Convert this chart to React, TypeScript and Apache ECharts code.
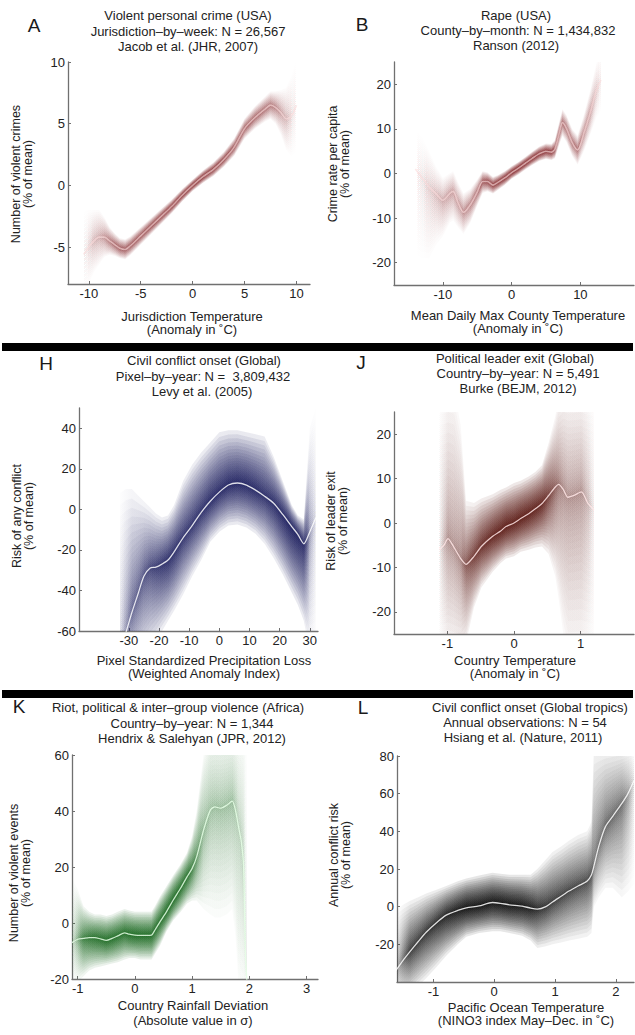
import React, { useEffect, useRef } from 'react';
import * as echarts from 'echarts';

const FONT = '"Liberation Sans", Arial, Helvetica, sans-serif';
const TEXT = '#222222';
const AXIS = '#707070';

// ---------- Panel A : violent personal crime ----------
const A_X = [-10.5, -10, -9.5, -9, -8.5, -8, -7.5, -7, -6.5, -6, -5, -4, -3, -2, -1, 0, 1, 2, 3, 4, 5, 6, 7, 7.5, 8, 8.5, 9, 9.5, 10];
const A_MID = [-5.6, -5.0, -4.5, -4.2, -4.2, -4.5, -4.8, -5.1, -5.2, -4.9, -4.1, -3.3, -2.5, -1.7, -0.8, 0, 0.7, 1.3, 2.1, 3.1, 4.6, 5.5, 6.2, 6.5, 6.3, 5.9, 5.4, 5.6, 6.5];
const A_LO = [-9.1, -8.0, -7.0, -6.4, -5.8, -5.6, -5.7, -5.9, -6.0, -5.65, -4.8, -3.95, -3.1, -2.25, -1.3, -0.45, 0.2, 0.75, 1.5, 2.4, 3.8, 4.6, 5.2, 5.4, 5.0, 4.1, 2.9, 2.4, 2.7];
const A_HI = [-2.1, -2.0, -2.0, -2.0, -2.6, -3.4, -3.9, -4.3, -4.4, -4.15, -3.4, -2.65, -1.9, -1.15, -0.3, 0.45, 1.2, 1.85, 2.7, 3.8, 5.4, 6.4, 7.2, 7.6, 7.6, 7.7, 7.9, 8.8, 10.3];

// ---------- Panel B : rape ----------
const B_X = [-14, -13, -12, -11, -10, -9, -8.5, -7.8, -7, -6, -5, -4.2, -3.5, -2.7, -2, -1, 0, 1, 2, 3, 4, 5, 5.8, 6.3, 7, 7.4, 8, 8.8, 9.6, 10.5, 11.5, 12.3, 13];
const B_MID = [1, -1, -3, -4.5, -6, -4.5, -4, -6.5, -8.7, -7, -4.2, -1.8, -1.8, -2.6, -2.0, -1.0, 0.2, 1.2, 2.3, 3.4, 4.4, 5.0, 4.8, 5.5, 9.5, 11.4, 10, 7, 5.3, 9, 14, 18.5, 21];
const B_LO = [-18, -19, -19, -16, -14, -11, -10.5, -12, -13.5, -11, -7.2, -4.3, -4, -4.5, -3.7, -2.6, -1.2, -0.2, 0.9, 1.9, 2.8, 3.3, 3, 3.4, 6.8, 8.4, 7, 4, 2, 5, 9, 12.5, 14];
const B_HI = [10, 8, 5, 1.5, -1, 0, 0.5, -2, -4.5, -3.5, -1.4, 0.5, 0.2, -0.8, -0.4, 0.5, 1.6, 2.6, 3.7, 4.9, 6, 6.7, 6.6, 7.5, 12, 14.4, 13, 10, 8.5, 13, 19, 24.5, 28];

// ---------- Panel H : civil conflict onset ----------
const H_X = [-33, -31, -29, -27, -25, -23, -21, -19, -17, -15, -12, -9, -6, -3, 0, 3, 6, 9, 12, 15, 18, 21, 24, 26, 28, 30, 32];
const H_MID = [-70, -61, -51, -42, -33, -29, -28.5, -27, -25, -21, -14, -8, -1.5, 4, 8.5, 12, 13, 12, 9.5, 6.5, 3, -2.5, -8.5, -12.3, -17, -11, -4];
const H_LO = [-90, -90, -85, -80, -75, -70, -65, -60, -55, -50, -42, -33, -25, -16, -11, -8, -7.5, -9, -12, -17, -24, -32, -41, -47, -55, -70, -70];
const H_HI = [8, 10, 10, 7, 4, 1, -2, -4, -3, 2, 14, 22, 28, 33, 38, 39, 39, 38, 37, 36, 26, 14, 2, -3, -5, 40, 50];

// ---------- Panel J : political leader exit ----------
const J_X = [-1.12, -1.05, -0.99, -0.9, -0.8, -0.72, -0.6, -0.49, -0.32, -0.2, -0.12, 0, 0.1, 0.22, 0.32, 0.42, 0.52, 0.62, 0.67, 0.74, 0.81, 0.9, 1.01, 1.11, 1.2];
const J_MID = [-6, -5, -3.5, -5.5, -8, -9.3, -7.5, -5.3, -3, -1.8, -0.8, 0, 1, 2.1, 3.2, 4.4, 6.2, 8.1, 8.7, 7.5, 5.8, 6.2, 7, 4.4, 3];
const J_LO = [-30, -30, -30, -30, -30, -27, -19, -14.5, -11, -9, -8, -7.5, -6.5, -6, -5.5, -5.3, -7, -12, -17, -25, -30, -30, -30, -30, -30];
const J_HI = [30, 30, 30, 30, 22, 5, 4.5, 5.5, 6.5, 7.5, 8, 9, 9.5, 10.5, 11.5, 13, 18, 24, 28, 30, 30, 30, 30, 30, 30];

// ---------- Panel K : riot & inter-group violence ----------
const K_X = [-1.1, -1.0, -0.9, -0.8, -0.7, -0.6, -0.5, -0.4, -0.3, -0.18, -0.1, 0, 0.1, 0.2, 0.29, 0.35, 0.44, 0.55, 0.67, 0.8, 0.91, 1.0, 1.08, 1.2, 1.32, 1.4, 1.49, 1.6, 1.7, 1.76, 1.81, 1.86, 1.9, 1.93, 1.97];
const K_MID = [-7, -5.8, -5.5, -5.2, -5.2, -5.7, -6.2, -5.5, -4.6, -3.5, -4, -4.3, -4.4, -4.4, -4.3, -2.5, 0.5, 4, 8.2, 12.5, 16.5, 19.5, 23.7, 33.2, 40.4, 41.5, 41, 42, 43.5, 40, 34.4, 29, 20, -10, -25];
const K_LO = [-22, -21, -19, -17, -16, -15.5, -15, -14.5, -14, -13, -12.5, -12.5, -13, -13, -13, -11, -8, -3, 1, 4, 7, 8, 8, 5, 3, 2, 2, 3, 5, -5, -22, -25, -25, -25, -25];
const K_HI = [16, 12, 6, 4, 3, 3, 2.5, 3, 4, 5, 4.5, 4, 4, 4, 4, 6, 9.5, 13, 17, 21, 25, 31, 40, 60, 70, 70, 70, 70, 70, 70, 70, 70, 70, 70, 70];

// ---------- Panel L : civil conflict onset (tropics) ----------
const L_X = [-1.62, -1.5, -1.39, -1.25, -1.12, -0.95, -0.79, -0.6, -0.46, -0.25, -0.03, 0.1, 0.25, 0.46, 0.6, 0.71, 0.85, 0.96, 1.1, 1.23, 1.38, 1.53, 1.6, 1.64, 1.72, 1.83, 1.95, 2.1, 2.2, 2.3];
const L_MID = [-34, -28.5, -24, -18.5, -13.6, -8.5, -4.5, -2, -0.6, 0.4, 2.2, 1.8, 1, 0.3, -0.8, -1.3, 0, 2.5, 5.5, 8.3, 11, 13.6, 17, 21.5, 32, 42.5, 48, 54.8, 60, 67];
const L_LO = [-55, -50, -46, -42, -38, -32, -26, -20, -16, -14, -13, -13, -14, -15.5, -18, -22, -21, -20, -19, -18, -17, -16, -14, 0, 5, 10, 10, 5, 8, 12];
const L_HI = [-2, 1, 3, 5, 7, 9, 11, 13.5, 15, 16.5, 18, 17.5, 17, 17, 17, 20, 25, 29, 32, 35, 38, 40, 45, 85, 85, 85, 85, 85, 85, 85];

// ---------- texts ----------
const LETTERS = ['A', 'B', 'H', 'J', 'K', 'L'];
const TITLES = [
  ['Violent personal crime (USA)', 'Jurisdiction–by–week: N = 26,567', 'Jacob et al. (JHR, 2007)'],
  ['Rape (USA)', 'County–by–month: N = 1,434,832', 'Ranson (2012)'],
  ['Civil conflict onset (Global)', 'Pixel–by–year: N =  3,809,432', 'Levy et al. (2005)'],
  ['Political leader exit (Global)', 'Country–by–year: N = 5,491', 'Burke (BEJM, 2012)'],
  ['Riot, political & inter–group violence (Africa)', 'Country–by–year: N = 1,344', 'Hendrix & Salehyan (JPR, 2012)'],
  ['Civil conflict onset (Global tropics)', 'Annual observations: N = 54', 'Hsiang et al. (Nature, 2011)'],
];
const X_NAMES = [
  ['Jurisdiction Temperature', '(Anomaly in ˚C)'],
  ['Mean Daily Max County Temperature', '(Anomaly in ˚C)'],
  ['Pixel Standardized Precipitation Loss', '(Weighted Anomaly Index)'],
  ['Country Temperature', '(Anomaly in ˚C)'],
  ['Country Rainfall Deviation', '(Absolute value in σ)'],
  ['Pacific Ocean Temperature', '(NINO3 index May–Dec. in ˚C)'],
];
const Y_NAMES = [
  ['Number of violent crimes', '(% of mean)'],
  ['Crime rate per capita', '(% of mean)'],
  ['Risk of any conflict', '(% of mean)'],
  ['Risk of leader exit', '(% of mean)'],
  ['Number of violent events', '(% of mean)'],
  ['Annual conflict risk', '(% of mean)'],
];
const X_TICKS = [[-10, -5, 0, 5, 10], [-10, 0, 10], [-30, -20, -10, 0, 10, 20, 30], [-1, 0, 1], [-1, 0, 1, 2, 3], [-1, 0, 1, 2]];
const Y_TICKS = [[-5, 0, 5, 10], [-20, -10, 0, 10, 20], [-60, -40, -20, 0, 20, 40], [-20, -10, 0, 10, 20], [-20, 0, 20, 40, 60], [-20, 0, 20, 40, 60, 80]];
const X_RANGE = [[-12, 11.3], [-17.1, 17.8], [-46.5, 32.7], [-1.8, 1.8], [-1.1, 3.2], [-1.6, 2.3]];
const Y_RANGE = [[-8, 10], [-25, 25], [-60, 50], [-25, 25], [-20, 60], [-40, 80]];

const PANELS = [
  { x: A_X, mid: A_MID, lo: A_LO, hi: A_HI },
  { x: B_X, mid: B_MID, lo: B_LO, hi: B_HI },
  { x: H_X, mid: H_MID, lo: H_LO, hi: H_HI },
  { x: J_X, mid: J_MID, lo: J_LO, hi: J_HI },
  { x: K_X, mid: K_MID, lo: K_LO, hi: K_HI },
  { x: L_X, mid: L_MID, lo: L_LO, hi: L_HI },
];

// layout (pixels)
const GRIDS = [
  { left: 68, top: 62, width: 242, height: 222 },
  { left: 394, top: 62, width: 240, height: 223 },
  { left: 79, top: 408, width: 239, height: 223 },
  { left: 394, top: 412, width: 240, height: 222 },
  { left: 72, top: 755, width: 246, height: 224 },
  { left: 397, top: 756, width: 237, height: 226 },
];
const COLORS = [[120, 18, 22], [120, 18, 22], [20, 22, 88], [85, 18, 12], [16, 98, 22], [6, 6, 6]];
const LINE_COLORS = ['rgba(250,222,222,0.65)', 'rgba(250,222,222,0.65)', 'rgba(255,255,255,0.85)', 'rgba(255,232,232,0.85)', 'rgba(232,255,232,0.85)', 'rgba(255,255,255,0.85)'];
const LETTER_POS = [[34, 25], [362, 24], [46, 363], [361, 362], [19, 706], [363, 707]];
const TITLE_POS = [
  [[188, 15], [188, 31], [188, 46]],
  [[516, 15], [518, 30], [516, 45]],
  [[204, 360], [203, 376], [202, 391]],
  [[515, 358], [518, 373], [518, 388]],
  [[178, 707], [192, 723], [192, 738]],
  [[530, 707], [525, 722], [523, 737]],
];
const XNAME_POS = [[192, 316, 329], [518, 315, 328], [204, 660, 673], [515, 660, 673], [193, 1005, 1020], [526, 1007, 1020]];
const YNAME_POS = [[16, 28, 174], [333, 345, 164], [17, 29, 516], [331, 343, 521], [14, 26, 873], [334, 346, 855]];

const LAYERS = 28;
const A0 = 0.1;
const SPREAD_POW = 2.2;
const WIDTH_POW = 1.1;

function bandSeries(idx: number) {
  const p = PANELS[idx];
  const [r, g, b] = COLORS[idx];
  const n = p.x.length;
  const widths = p.x.map((_, i) => p.hi[i] - p.lo[i]);
  const wMin = Math.min(...widths);
  const x0 = p.x[0];
  const span = p.x[n - 1] - x0;
  const stops = p.x.map((x, i) => {
    let ratio = Math.min(1, Math.max(0.05, Math.pow(wMin / widths[i], WIDTH_POW)));
    if (i === 0 || i === n - 1) ratio *= 0.15;
    else if (i === 1 || i === n - 2) ratio *= 0.6;
    return { offset: (x - x0) / span, color: `rgba(${r},${g},${b},${(A0 * ratio).toFixed(4)})` };
  });
  const data = [];
  for (let k = 0; k < LAYERS; k++) data.push([0, 0, k]);
  return {
    type: 'custom',
    xAxisIndex: idx,
    yAxisIndex: idx,
    clip: true,
    silent: true,
    data,
    encode: { x: 0, y: 1 },
    renderItem: (params: any, api: any) => {
      const k = api.value(2);
      const f = Math.pow((k + 1) / LAYERS, SPREAD_POW);
      const up: number[][] = [];
      const dn: number[][] = [];
      for (let i = 0; i < n; i++) {
        const m = p.mid[i];
        up.push(api.coord([p.x[i], m + f * (p.hi[i] - m)]));
        dn.push(api.coord([p.x[i], m - f * (m - p.lo[i])]));
      }
      const points = up.concat(dn.reverse());
      return {
        type: 'polygon',
        shape: { points },
        style: { fill: new echarts.graphic.LinearGradient(0, 0, 1, 0, stops), stroke: 'none' },
      };
    },
  };
}

function lineSeries(idx: number) {
  const p = PANELS[idx];
  return {
    type: 'line',
    xAxisIndex: idx,
    yAxisIndex: idx,
    data: p.x.map((x, i) => [x, p.mid[i]]),
    showSymbol: false,
    symbol: 'none',
    smooth: 0.25,
    clip: true,
    silent: true,
    lineStyle: { color: LINE_COLORS[idx], width: idx < 2 ? 1.6 : 1.3 },
    z: 5,
  };
}

function txt(text: string, x: number, y: number, size: number, rot = 0, color = TEXT) {
  return {
    type: 'text',
    x,
    y,
    rotation: rot,
    silent: true,
    style: { text, fill: color, fontSize: size, fontFamily: FONT, align: 'center', verticalAlign: 'middle' },
  };
}

export default function App() {
  const ref = useRef<HTMLDivElement>(null);
  useEffect(() => {
    document.body.style.margin = '0';
    const chart = echarts.init(ref.current!, null, { renderer: 'svg' });
    const xAxis: any[] = [];
    const yAxis: any[] = [];
    const series: any[] = [];
    const graphic: any[] = [];
    for (let i = 0; i < 6; i++) {
      const common = {
        gridIndex: i,
        type: 'value',
        splitLine: { show: false },
        axisLine: { show: true, onZero: false, lineStyle: { color: AXIS, width: 1.3 } },
      };
      xAxis.push({
        ...common,
        min: X_RANGE[i][0],
        max: X_RANGE[i][1],
        axisTick: { show: true, inside: true, length: 3, customValues: X_TICKS[i], lineStyle: { color: AXIS } },
        axisLabel: { customValues: X_TICKS[i], fontSize: 13, color: TEXT, fontFamily: FONT, margin: 3 },
      });
      yAxis.push({
        ...common,
        min: Y_RANGE[i][0],
        max: Y_RANGE[i][1],
        axisTick: { show: true, inside: true, length: 3, customValues: Y_TICKS[i], lineStyle: { color: AXIS } },
        axisLabel: { customValues: Y_TICKS[i], fontSize: 13, color: TEXT, fontFamily: FONT, margin: 3 },
      });
      series.push(bandSeries(i));
      series.push(lineSeries(i));
      graphic.push(txt(LETTERS[i], LETTER_POS[i][0], LETTER_POS[i][1], 19, 0, '#1a1a1a'));
      TITLES[i].forEach((t, j) => graphic.push(txt(t, TITLE_POS[i][j][0], TITLE_POS[i][j][1], 13)));
      graphic.push(txt(X_NAMES[i][0], XNAME_POS[i][0], XNAME_POS[i][1], 13));
      graphic.push(txt(X_NAMES[i][1], XNAME_POS[i][0], XNAME_POS[i][2], 13));
      graphic.push(txt(Y_NAMES[i][0], YNAME_POS[i][0], YNAME_POS[i][2], 12.5, Math.PI / 2));
      graphic.push(txt(Y_NAMES[i][1], YNAME_POS[i][1], YNAME_POS[i][2], 12.5, Math.PI / 2));
    }
    graphic.push({ type: 'rect', silent: true, shape: { x: 2, y: 343, width: 631, height: 8 }, style: { fill: '#000' } });
    graphic.push({ type: 'rect', silent: true, shape: { x: 2, y: 690, width: 631, height: 8 }, style: { fill: '#000' } });

    chart.setOption({
      animation: false,
      backgroundColor: '#ffffff',
      grid: GRIDS.map((g) => ({ ...g, containLabel: false })),
      xAxis,
      yAxis,
      series,
      graphic,
    });
    return () => chart.dispose();
  }, []);
  return <div ref={ref} style={{ position: 'absolute', left: 0, top: 0, width: 635, height: 1035 }} />;
}
